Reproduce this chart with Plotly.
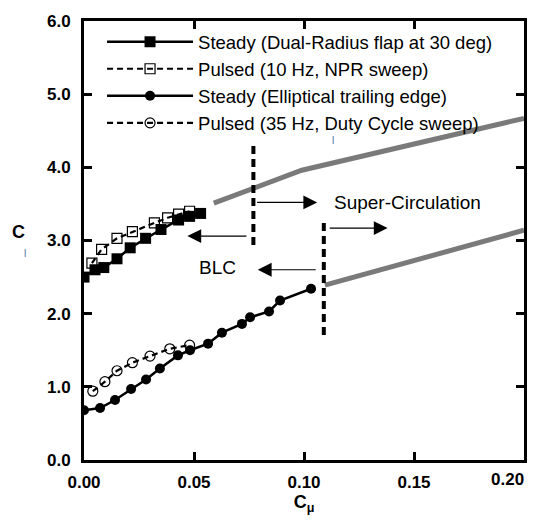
import plotly.graph_objects as go

# ---- data ----
dr_steady_x = [0.000, 0.005, 0.009, 0.015, 0.021, 0.028, 0.035, 0.043, 0.048, 0.053]
dr_steady_y = [2.50, 2.60, 2.63, 2.75, 2.90, 3.03, 3.15, 3.28, 3.33, 3.37]

npr_pulsed_x = [0.0036, 0.008, 0.015, 0.022, 0.032, 0.038, 0.043, 0.048]
npr_pulsed_y = [2.69, 2.88, 3.03, 3.12, 3.24, 3.31, 3.36, 3.40]

ell_steady_x = [0.000, 0.0073, 0.0141, 0.0214, 0.0282, 0.0345, 0.0427, 0.0482,
                0.0564, 0.0627, 0.0718, 0.0755, 0.0841, 0.0891, 0.1032]
ell_steady_y = [0.68, 0.71, 0.82, 0.97, 1.10, 1.25, 1.43, 1.50,
                1.59, 1.74, 1.86, 1.95, 2.03, 2.18, 2.34]

dc_pulsed_x = [0.004, 0.0095, 0.015, 0.022, 0.030, 0.039, 0.048]
dc_pulsed_y = [0.94, 1.07, 1.22, 1.33, 1.42, 1.52, 1.57]

sc_upper_x = [0.059, 0.099, 0.200]
sc_upper_y = [3.51, 3.96, 4.67]
sc_lower_x = [0.1095, 0.200]
sc_lower_y = [2.39, 3.14]

bound1_x = [0.077, 0.077]
bound1_y = [2.94, 4.30]
bound2_x = [0.109, 0.109]
bound2_y = [1.71, 3.28]

# arrows: (tail x, head x, y)
arrows = [(0.078, 0.106, 3.52), (0.0745, 0.047, 3.06),
          (0.111, 0.138, 3.17), (0.106, 0.079, 2.60)]

x_ticks = [0.00, 0.05, 0.10, 0.15, 0.20]
x_ticklabels = ["0.00", "0.05", "0.10", "0.15", ""]
x_last_label = "0.20"
y_ticks = [0, 1, 2, 3, 4, 5, 6]
y_ticklabels = ["0.0", "1.0", "2.0", "3.0", "4.0", "5.0", "6.0"]

FONT = "Liberation Sans, Arial, sans-serif"

fig = go.Figure()

fig.add_trace(go.Scatter(
    x=dr_steady_x, y=dr_steady_y, mode="lines+markers",
    name="Steady (Dual-Radius flap at 30 deg)",
    line=dict(color="black", width=2.5),
    marker=dict(symbol="square", size=11, color="black")))
fig.add_trace(go.Scatter(
    x=npr_pulsed_x, y=npr_pulsed_y, mode="lines+markers",
    name="Pulsed (10 Hz, NPR sweep)",
    line=dict(color="black", width=2.2, dash="6px,4px"),
    marker=dict(symbol="square-open", size=10, color="black", line=dict(width=1.2))))
fig.add_trace(go.Scatter(
    x=ell_steady_x, y=ell_steady_y, mode="lines+markers",
    name="Steady (Elliptical trailing edge)",
    line=dict(color="black", width=2.5),
    marker=dict(symbol="circle", size=10, color="black")))
fig.add_trace(go.Scatter(
    x=dc_pulsed_x, y=dc_pulsed_y, mode="lines+markers",
    name="Pulsed (35 Hz, Duty Cycle sweep)",
    line=dict(color="black", width=2.2, dash="6px,4px"),
    marker=dict(symbol="circle-open", size=10, color="black", line=dict(width=1.2))))

for xs, ys in [(sc_upper_x, sc_upper_y), (sc_lower_x, sc_lower_y)]:
    fig.add_trace(go.Scatter(x=xs, y=ys, mode="lines", showlegend=False,
                             line=dict(color="#7a7a7a", width=5), hoverinfo="skip"))
for xs, ys in [(bound1_x, bound1_y), (bound2_x, bound2_y)]:
    fig.add_trace(go.Scatter(x=xs, y=ys, mode="lines", showlegend=False,
                             line=dict(color="black", width=4, dash="8px,5px"), hoverinfo="skip"))

for x0, x1, yy in arrows:
    fig.add_annotation(x=x1, y=yy, ax=x0, ay=yy, xref="x", yref="y", axref="x", ayref="y",
                       text="", showarrow=True, arrowhead=2, arrowsize=2.3, arrowwidth=1.2,
                       arrowcolor="black")

fig.add_annotation(x=0.147, y=3.52, xref="x", yref="y", text="Super-Circulation",
                   showarrow=False, font=dict(family=FONT, size=19, color="black"))
fig.add_annotation(x=0.0605, y=2.63, xref="x", yref="y", text="BLC",
                   showarrow=False, font=dict(family=FONT, size=19, color="black"))
fig.add_annotation(x=0.1132, y=4.36, xref="x", yref="y", text="l",
                   showarrow=False, font=dict(family=FONT, size=10, color="#4a6fa5"))

# last x tick label kept inside the figure, as in the reference
fig.add_annotation(x=0.2, y=0, xref="x", yref="y domain", text="<b>" + x_last_label + "</b>",
                   xanchor="right", yanchor="top", xshift=2, yshift=-8, showarrow=False,
                   font=dict(family=FONT, size=17, color="black"))

# y-axis title (horizontal)
fig.add_annotation(xref="x domain", yref="y domain", x=-0.168, y=0.520,
                   text="<b>C</b>", showarrow=False,
                   font=dict(family=FONT, size=18, color="black"))
fig.add_annotation(xref="x domain", yref="y domain", x=-0.140, y=0.470,
                   text="l", showarrow=False,
                   font=dict(family=FONT, size=10, color="#4a6fa5"))

axis_common = dict(showgrid=False, zeroline=False, showline=True, linecolor="black",
                   linewidth=3, mirror="ticks", ticks="inside", ticklen=8, tickwidth=3,
                   tickcolor="black",
                   tickfont=dict(family=FONT, size=17, color="black", weight="bold"))

fig.update_xaxes(range=[0, 0.2], tickvals=x_ticks, ticktext=x_ticklabels,
                 ticklabelstandoff=5,
                 title=dict(text="<b>C<sub>μ</sub></b>", font=dict(family=FONT, size=18, color="black"),
                            standoff=2),
                 **axis_common)
fig.update_yaxes(range=[0, 6], tickvals=y_ticks, ticktext=y_ticklabels,
                 ticklabelstandoff=7, **axis_common)

fig.update_layout(
    width=540, height=527,
    margin=dict(l=84, r=16, t=21, b=67),
    paper_bgcolor="white", plot_bgcolor="white",
    showlegend=True,
    legend=dict(x=0.041, y=0.995, xanchor="left", yanchor="top",
                bgcolor="rgba(255,255,255,0)", borderwidth=0,
                font=dict(family=FONT, size=18.5, color="black"),
                tracegroupgap=0, itemwidth=86),
)

fig.write_html("out.html")
